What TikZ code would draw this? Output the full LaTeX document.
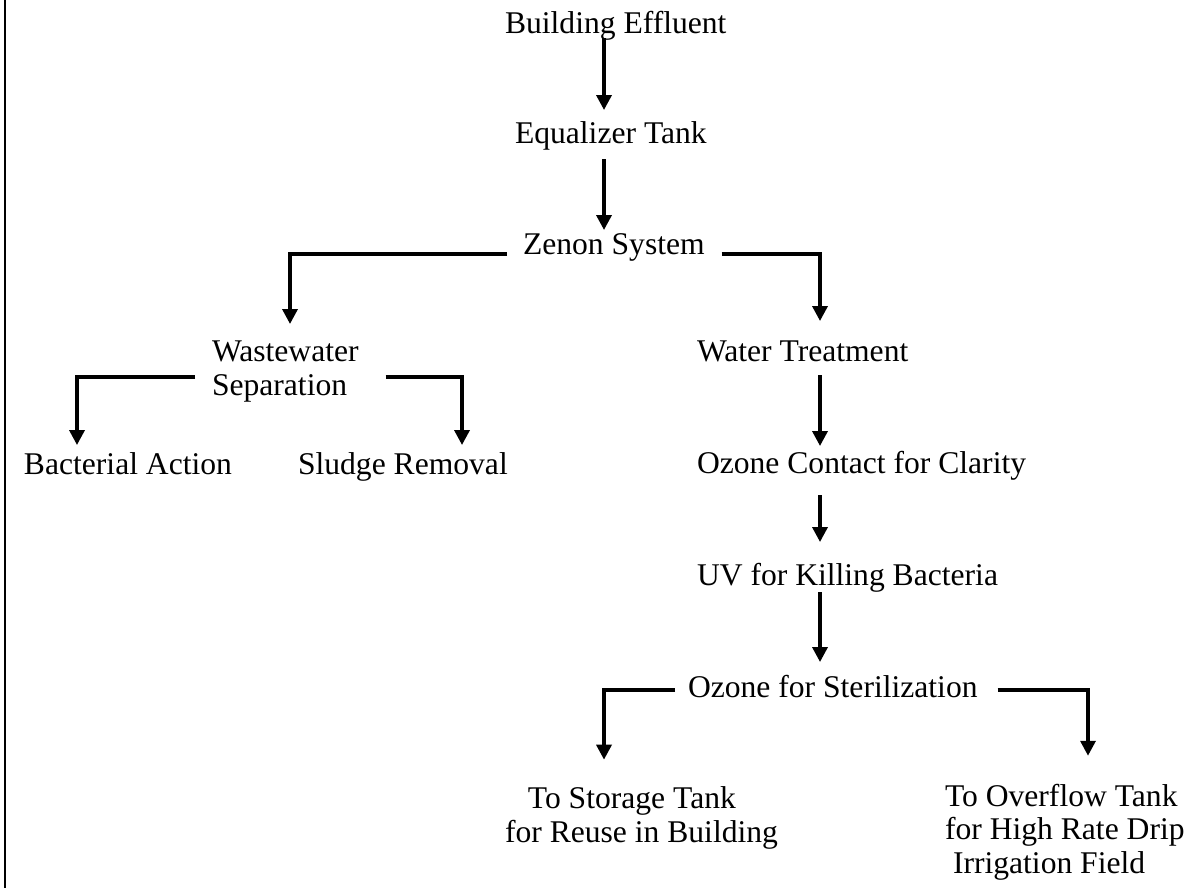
\documentclass[tikz,border=0pt]{standalone}
\usepackage{fontspec}
\setmainfont{Liberation Serif}
\usetikzlibrary{arrows.meta,calc}
\begin{document}
\begin{tikzpicture}[x=0.375pt,y=-0.375pt,
  lbl/.style={inner sep=0pt, outer sep=0pt, font=\fontsize{11.85pt}{12.6pt}\selectfont, align=left},
  arr/.style={line width=1.3pt, -{Triangle[width=5.6pt,length=5.6pt]}},
  border/.style={line width=0.75pt}]
\useasboundingbox (0,0) rectangle (1201,888);
\draw[border] (4.5,0) -- (4.5,888);
\coordinate (cA) at (604,0);
\coordinate (cB) at (820,0);
\node[lbl, anchor=base west] (be) at (505,33) {Building Effluent};
\node[lbl, anchor=base west] (eq) at (515,143) {Equalizer Tank};
\node[lbl, anchor=base west] (zs) at (523,254) {Zenon System};
\node[lbl, anchor=south west] (ws) at (212,402) {Wastewater\\Separation};
\node[lbl, anchor=base west] (wt) at (697,361) {Water Treatment};
\node[lbl, anchor=base west] (ba) at (24,474) {Bacterial Action};
\node[lbl, anchor=base west] (sr) at (298,474) {Sludge Removal};
\node[lbl, anchor=base west] (oc) at (697,473) {Ozone Contact for Clarity};
\node[lbl, anchor=base west] (uv) at (697,585) {UV for Killing Bacteria};
\node[lbl, anchor=base west] (os) at (688,697) {Ozone for Sterilization};
\node[lbl, anchor=south west] (st) at (505,849) {\hspace*{8.6pt}To Storage Tank\\for Reuse in Building};
\node[lbl, anchor=south west] (ov) at (945,880) {To Overflow Tank\\for High Rate Drip\\\hspace*{3pt}Irrigation Field};
\draw[arr] ($(be.base -| cA)+(0,5)$) -- ($(eq.base -| cA)+(0,-33)$);
\draw[arr] ($(eq.base -| cA)+(0,16)$) -- ($(zs.base -| cA)+(0,-24)$);
\draw[arr] ($(zs.base west)+(-16,0)$) -| ($(ws.north west)+(78,-17)$);
\draw[arr] ($(zs.base east)+(17,0)$) -| ($(wt.base -| cB)+(0,-40)$);
\draw[arr] ($(ws.south west)+(-17,-25)$) -| ($(ba.base west)+(53,-29)$);
\draw[arr] ($(ws.south east)+(27,-25)$) -| ($(sr.base west)+(164,-29)$);
\draw[arr] ($(wt.base -| cB)+(0,14)$) -- ($(oc.base -| cB)+(0,-27)$);
\draw[arr] ($(oc.base -| cB)+(0,22)$) -- ($(uv.base -| cB)+(0,-43)$);
\draw[arr] ($(uv.base -| cB)+(0,7)$) -- ($(os.base -| cB)+(0,-35)$);
\draw[arr] ($(os.base west)+(-13,-7)$) -| ($(st.north west)+(99,-27)$);
\draw[arr] ($(os.base east)+(20,-7)$) -| ($(ov.north west)+(143,-28)$);
\end{tikzpicture}
\end{document}
